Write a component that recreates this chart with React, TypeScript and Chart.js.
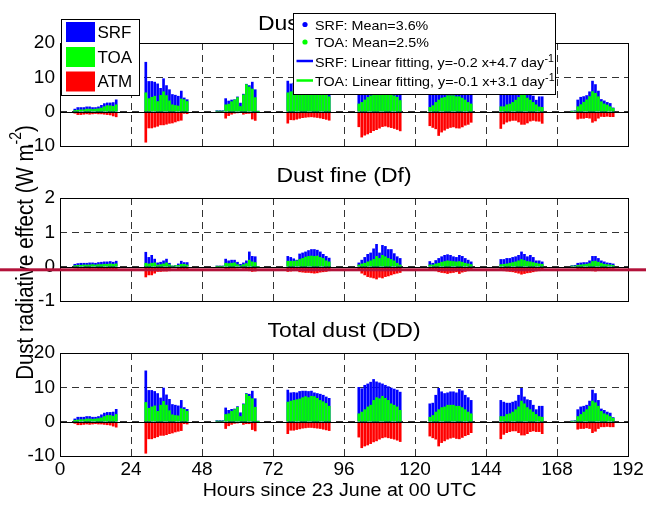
import React, { useEffect, useRef } from "react";
import { Chart, registerables } from "chart.js";

Chart.register(...registerables);

// ---------------- data ----------------
const HOURS = [
  5, 6, 7, 8, 9, 10, 11, 12, 13, 14, 15, 16, 17, 18, 19,
  29, 30, 31, 32, 33, 34, 35, 36, 37, 38, 39, 40, 41, 42, 43,
  53, 54, 55, 56, 57, 58, 59, 60, 61, 62, 63, 64, 65, 66, 67,
  77, 78, 79, 80, 81, 82, 83, 84, 85, 86, 87, 88, 89, 90, 91,
  101, 102, 103, 104, 105, 106, 107, 108, 109, 110, 111, 112, 113, 114, 115,
  125, 126, 127, 128, 129, 130, 131, 132, 133, 134, 135, 136, 137, 138, 139,
  149, 150, 151, 152, 153, 154, 155, 156, 157, 158, 159, 160, 161, 162, 163,
  173, 174, 175, 176, 177, 178, 179, 180, 181, 182, 183, 184, 185, 186, 187,
];

const X_TICK_STEP = 24;

// Dust coarse (Dc)
const DC_SRF = [
  0.75, 1.2, 1.2, 1.2, 1.4, 1.4, 1.2, 1.2, 1.4, 1.85, 2.35, 2.55, 2.55, 2.65, 3.45,
  14.4, 8.8, 8.8, 8.6, 8.1, 6.8, 9.6, 7.6, 6.4, 5.0, 4.8, 4.5, 6.0, 4.0, 3.5,
  0.28, 0.28, 0.28, 3.8, 3.1, 3.4, 3.5, 4.3, 2.5, 5.1, 8.0, 7.6, 8.6, 6.4, 0.1,
  8.9, 8.1, 8.3, 8.2, 8.4, 8.5, 8.5, 8.3, 8.4, 7.9, 7.7, 7.6, 7.3, 6.9, 6.55,
  9.9, 9.4, 10.3, 10.6, 11.1, 11.8, 10.9, 10.9, 10.4, 10.0, 9.7, 9.3, 9.1, 8.9, 8.35,
  5.05, 5.3, 7.5, 9.45, 8.4, 7.85, 8.05, 8.35, 8.4, 8.15, 9.05, 8.7, 7.45, 6.8, 6.05,
  6.0, 5.5, 5.15, 5.15, 5.45, 5.7, 7.35, 9.25, 6.85, 6.1, 5.85, 4.55, 3.35, 4.35, 4.35,
  0.17, 0.26, 3.4, 4.2, 4.4, 4.7, 5.8, 8.9, 7.9, 6.0, 3.55, 3.15, 2.7, 2.4, 1.1,
];
const DC_TOA = [
  0.35, 0.45, 0.55, 0.55, 0.75, 0.75, 0.65, 0.75, 0.85, 1.05, 1.45, 1.75, 1.7, 1.55, 2.0,
  5.5, 3.8, 4.2, 4.5, 2.95, 4.75, 5.8, 4.7, 3.15, 2.0, 1.8, 1.65, 3.7, 3.5, 2.95,
  0.19, 0.19, 0.19, 2.0, 2.2, 2.9, 3.4, 4.1, 1.5, 4.9, 7.9, 7.2, 6.6, 4.1, 0.05,
  5.5, 5.8, 6.0, 6.2, 6.4, 6.75, 7.0, 6.7, 7.1, 7.0, 6.5, 5.9, 5.55, 5.1, 4.35,
  2.25, 2.7, 3.4, 4.15, 4.6, 6.0, 6.7, 6.45, 7.05, 6.5, 5.95, 5.0, 4.6, 4.2, 3.25,
  1.25, 1.75, 2.7, 3.4, 3.95, 4.15, 4.65, 4.65, 4.65, 4.35, 4.35, 3.95, 3.4, 2.7, 2.25,
  1.45, 1.45, 2.0, 2.2, 2.7, 3.35, 4.15, 5.8, 5.0, 3.95, 3.35, 2.7, 2.0, 1.4, 1.25,
  0.08, 0.18, 1.45, 2.05, 2.75, 3.45, 4.4, 5.85, 5.35, 4.35, 2.9, 2.25, 1.95, 1.45, 0.95,
];
const DC_ATM = [
  -0.45, -0.85, -0.85, -0.75, -0.65, -0.75, -0.65, -0.55, -0.65, -0.65, -0.75, -0.85, -0.95, -1.25, -1.5,
  -8.9, -4.75, -4.75, -4.5, -4.25, -3.85, -3.85, -3.65, -3.4, -3.3, -3.0, -2.7, -2.5, -0.5, -0.6,
  -0.09, -0.09, -0.09, -1.9, -1.15, -0.75, -0.45, -0.35, -0.27, -0.75, -0.55, -0.5, -2.15, -2.55, -0.05,
  -3.35, -2.35, -2.4, -2.2, -1.95, -1.75, -1.65, -1.55, -1.5, -1.6, -1.7, -1.85, -2.05, -2.25, -2.5,
  -4.4, -7.4, -6.85, -6.5, -6.1, -5.55, -5.25, -4.8, -4.35, -4.2, -4.45, -4.65, -4.9, -5.2, -5.6,
  -4.1, -4.6, -5.0, -6.95, -5.95, -5.4, -4.9, -4.6, -4.45, -4.75, -4.8, -4.45, -3.95, -3.7, -3.1,
  -4.9, -3.6, -3.05, -2.75, -2.55, -2.55, -3.0, -3.7, -3.7, -3.3, -2.75, -2.55, -2.75, -2.8, -3.4,
  -0.09, -0.18, -2.15, -1.95, -1.95, -1.75, -1.9, -3.1, -2.7, -1.9, -1.4, -1.45, -1.35, -1.45, -1.45,
];

// Dust fine (Df)
const DF_SRF = [
  0.07, 0.09, 0.1, 0.1, 0.1, 0.11, 0.11, 0.1, 0.12, 0.13, 0.14, 0.14, 0.15, 0.13, 0.16,
  0.42, 0.27, 0.33, 0.22, 0.11, 0.13, 0.17, 0.22, 0.1, 0.02, 0.03, 0.08, 0.16, 0.12, 0.12,
  0.02, 0.02, 0.02, 0.22, 0.17, 0.19, 0.19, 0.13, 0.07, 0.11, 0.17, 0.43, 0.3, 0.29, 0.0,
  0.3, 0.27, 0.23, 0.19, 0.37, 0.4, 0.43, 0.47, 0.5, 0.5, 0.48, 0.43, 0.36, 0.3, 0.25,
  0.11, 0.19, 0.27, 0.36, 0.4, 0.52, 0.65, 0.4, 0.62, 0.59, 0.5, 0.5, 0.38, 0.29, 0.24,
  0.15, 0.1, 0.18, 0.24, 0.29, 0.33, 0.35, 0.33, 0.29, 0.27, 0.33, 0.3, 0.24, 0.19, 0.14,
  0.21, 0.21, 0.24, 0.24, 0.27, 0.29, 0.33, 0.43, 0.36, 0.29, 0.33, 0.27, 0.17, 0.17, 0.14,
  0.03, 0.04, 0.1, 0.11, 0.12, 0.12, 0.17, 0.3, 0.3, 0.24, 0.17, 0.14, 0.11, 0.1, 0.08,
];
const DF_TOA = [
  0.03, 0.04, 0.04, 0.05, 0.05, 0.05, 0.06, 0.05, 0.06, 0.06, 0.07, 0.07, 0.08, 0.07, 0.08,
  0.1, 0.08, 0.1, 0.11, 0.05, 0.06, 0.08, 0.11, 0.06, 0.02, 0.03, 0.04, 0.07, 0.07, 0.05,
  0.01, 0.01, 0.01, 0.1, 0.09, 0.1, 0.11, 0.06, 0.03, 0.06, 0.09, 0.19, 0.14, 0.12, 0.0,
  0.16, 0.16, 0.16, 0.17, 0.21, 0.24, 0.28, 0.3, 0.31, 0.3, 0.31, 0.27, 0.24, 0.17, 0.14,
  0.05, 0.08, 0.1, 0.14, 0.17, 0.21, 0.3, 0.24, 0.33, 0.29, 0.24, 0.21, 0.17, 0.1, 0.05,
  0.05, 0.05, 0.08, 0.1, 0.13, 0.15, 0.17, 0.16, 0.15, 0.14, 0.15, 0.13, 0.1, 0.08, 0.06,
  0.06, 0.07, 0.08, 0.1, 0.12, 0.14, 0.17, 0.21, 0.18, 0.15, 0.14, 0.12, 0.1, 0.08, 0.07,
  0.02, 0.02, 0.04, 0.05, 0.06, 0.07, 0.09, 0.15, 0.16, 0.13, 0.1, 0.07, 0.06, 0.05, 0.04,
];
const DF_ATM = [
  -0.04, -0.05, -0.05, -0.05, -0.05, -0.06, -0.05, -0.05, -0.06, -0.06, -0.07, -0.07, -0.07, -0.06, -0.08,
  -0.3, -0.24, -0.24, -0.19, -0.14, -0.14, -0.13, -0.13, -0.12, -0.02, -0.03, -0.1, -0.11, -0.11, -0.1,
  -0.01, -0.01, -0.01, -0.1, -0.06, -0.05, -0.05, -0.04, -0.03, -0.05, -0.06, -0.12, -0.14, -0.13, 0.0,
  -0.14, -0.13, -0.12, -0.12, -0.15, -0.16, -0.17, -0.17, -0.18, -0.19, -0.18, -0.16, -0.15, -0.14, -0.12,
  -0.1, -0.19, -0.24, -0.29, -0.31, -0.33, -0.36, -0.31, -0.33, -0.29, -0.27, -0.24, -0.21, -0.19, -0.17,
  -0.08, -0.1, -0.12, -0.15, -0.17, -0.18, -0.2, -0.18, -0.17, -0.15, -0.2, -0.16, -0.14, -0.12, -0.1,
  -0.1, -0.12, -0.13, -0.14, -0.15, -0.17, -0.19, -0.22, -0.2, -0.18, -0.17, -0.15, -0.13, -0.12, -0.1,
  -0.01, -0.02, -0.06, -0.06, -0.07, -0.07, -0.08, -0.12, -0.13, -0.1, -0.08, -0.07, -0.06, -0.05, -0.05,
];

// Total dust (DD)
const DD_SRF = [
  0.8, 1.3, 1.3, 1.3, 1.5, 1.5, 1.3, 1.3, 1.5, 2.0, 2.5, 2.7, 2.7, 2.8, 3.6,
  14.8, 9.1, 9.1, 8.8, 8.2, 6.9, 9.8, 7.8, 6.5, 5.0, 4.8, 4.6, 6.2, 4.1, 3.6,
  0.3, 0.3, 0.3, 4.0, 3.3, 3.6, 3.7, 4.4, 2.6, 5.2, 8.2, 8.0, 8.9, 6.7, 0.1,
  9.2, 8.4, 8.5, 8.4, 8.8, 8.9, 8.9, 8.8, 8.9, 8.4, 8.2, 8.0, 7.7, 7.2, 6.8,
  10.0, 9.6, 10.6, 11.0, 11.5, 12.3, 11.6, 11.3, 11.0, 10.6, 10.2, 9.8, 9.5, 9.2, 8.6,
  5.2, 5.4, 7.7, 9.7, 8.7, 8.2, 8.4, 8.7, 8.7, 8.4, 9.4, 9.0, 7.7, 7.0, 6.2,
  6.2, 5.7, 5.4, 5.4, 5.7, 6.0, 7.7, 9.7, 7.2, 6.4, 6.2, 4.8, 3.5, 4.5, 4.5,
  0.2, 0.3, 3.5, 4.3, 4.5, 4.8, 6.0, 9.2, 8.2, 6.2, 3.7, 3.3, 2.8, 2.5, 1.2,
];
const DD_TOA = [
  0.4, 0.5, 0.6, 0.6, 0.8, 0.8, 0.7, 0.8, 0.9, 1.1, 1.5, 1.8, 1.8, 1.6, 2.1,
  5.6, 3.9, 4.3, 4.6, 3.0, 4.8, 5.9, 4.8, 3.2, 2.0, 1.8, 1.7, 3.8, 3.6, 3.0,
  0.2, 0.2, 0.2, 2.1, 2.3, 3.0, 3.5, 4.2, 1.5, 5.0, 8.0, 7.4, 6.7, 4.2, 0.05,
  5.7, 6.0, 6.2, 6.4, 6.6, 7.0, 7.3, 7.0, 7.4, 7.3, 6.8, 6.2, 5.8, 5.3, 4.5,
  2.3, 2.8, 3.5, 4.3, 4.8, 6.2, 7.0, 6.7, 7.4, 6.8, 6.2, 5.2, 4.8, 4.3, 3.3,
  1.3, 1.8, 2.8, 3.5, 4.1, 4.3, 4.8, 4.8, 4.8, 4.5, 4.5, 4.1, 3.5, 2.8, 2.3,
  1.5, 1.5, 2.1, 2.3, 2.8, 3.5, 4.3, 6.0, 5.2, 4.1, 3.5, 2.8, 2.1, 1.5, 1.3,
  0.1, 0.2, 1.5, 2.1, 2.8, 3.5, 4.5, 6.0, 5.5, 4.5, 3.0, 2.3, 2.0, 1.5, 1.0,
];
const DD_ATM = [
  -0.5, -0.9, -0.9, -0.8, -0.7, -0.8, -0.7, -0.6, -0.7, -0.7, -0.8, -0.9, -1.0, -1.3, -1.6,
  -9.2, -5.0, -5.0, -4.7, -4.4, -4.0, -4.0, -3.8, -3.5, -3.3, -3.0, -2.8, -2.6, -0.6, -0.7,
  -0.1, -0.1, -0.1, -2.0, -1.2, -0.8, -0.5, -0.4, -0.3, -0.8, -0.6, -0.6, -2.3, -2.7, -0.05,
  -3.5, -2.5, -2.5, -2.3, -2.1, -1.9, -1.8, -1.7, -1.7, -1.8, -1.9, -2.0, -2.2, -2.4, -2.6,
  -4.5, -7.6, -7.1, -6.8, -6.4, -5.9, -5.6, -5.1, -4.7, -4.5, -4.7, -4.9, -5.1, -5.4, -5.8,
  -4.2, -4.7, -5.1, -7.1, -6.1, -5.6, -5.1, -4.8, -4.6, -4.9, -5.0, -4.6, -4.1, -3.8, -3.2,
  -5.0, -3.7, -3.2, -2.9, -2.7, -2.7, -3.2, -3.9, -3.9, -3.5, -2.9, -2.7, -2.9, -2.9, -3.5,
  -0.1, -0.2, -2.2, -2.0, -2.0, -1.8, -2.0, -3.2, -2.8, -2.0, -1.5, -1.5, -1.4, -1.5, -1.5,
];

const SERIES_NAMES = ["SRF", "TOA", "ATM"];
const STAT_LABELS = ["SRF: Mean=3.6%", "TOA: Mean=2.5%"];
const FIT_LABELS = ["SRF: Linear fitting, y=-0.2 x+4.7 day", "TOA: Linear fitting, y=-0.1 x+3.1 day"];
const FIT_SUP = "-1";
const PANEL_TITLES = ["Dust coarse (Dc)", "Dust fine (Df)", "Total dust (DD)"];
const X_LABEL = "Hours since 23 June at 00 UTC";
const Y_LABEL_MAIN = "Dust radiative effect (W m";
const Y_LABEL_SUP = "-2";
const Y_LABEL_END = ")";

// ---------------- layout / style ----------------
const W = 646;
const H = 506;
const PLOT_LEFT = 60;
const PLOT_RIGHT = 628;
const FONT = '"Liberation Sans", Arial, Helvetica, sans-serif';
const BLUE = "#0000ff";
const GREEN = "#00ff00";
const RED = "#ff0000";
const GRID = "#333";

type Panel = {
  title: string;
  srf: number[];
  toa: number[];
  atm: number[];
  top: number;
  bottom: number;
  yMin: number;
  yMax: number;
  yStep: number;
  titleBase: number;
  showX: boolean;
  extra: "legend" | "ylabel" | "xlabel";
};

const PANELS: Panel[] = [
  { title: PANEL_TITLES[0], srf: DC_SRF, toa: DC_TOA, atm: DC_ATM, top: 43, bottom: 146, yMin: -10, yMax: 20, yStep: 10, titleBase: 29.5, showX: false, extra: "legend" },
  { title: PANEL_TITLES[1], srf: DF_SRF, toa: DF_TOA, atm: DF_ATM, top: 198, bottom: 301, yMin: -1, yMax: 2, yStep: 1, titleBase: 181.7, showX: false, extra: "ylabel" },
  { title: PANEL_TITLES[2], srf: DD_SRF, toa: DD_TOA, atm: DD_ATM, top: 353, bottom: 456, yMin: -10, yMax: 20, yStep: 10, titleBase: 336.7, showX: true, extra: "xlabel" },
];

function text(
  ctx: CanvasRenderingContext2D,
  s: string,
  x: number,
  y: number,
  size: number,
  align: CanvasTextAlign = "left",
  sx = 1
) {
  ctx.save();
  ctx.font = `${size}px ${FONT}`;
  ctx.fillStyle = "#000";
  ctx.textBaseline = "alphabetic";
  ctx.textAlign = align;
  ctx.translate(x, y);
  ctx.scale(sx, 1);
  ctx.fillText(s, 0, 0);
  ctx.restore();
}

function measure(ctx: CanvasRenderingContext2D, s: string, size: number) {
  ctx.save();
  ctx.font = `${size}px ${FONT}`;
  const w = ctx.measureText(s).width;
  ctx.restore();
  return w;
}

function drawLegends(ctx: CanvasRenderingContext2D) {
  ctx.save();
  // left legend
  ctx.fillStyle = "#fff";
  ctx.fillRect(61, 19, 79, 77);
  ctx.strokeStyle = "#000";
  ctx.lineWidth = 1;
  ctx.strokeRect(61.5, 19.5, 78, 76);
  const colors = [BLUE, GREEN, RED];
  const rectTops = [22, 47, 71.5];
  const bases = [38.3, 63.3, 87.3];
  SERIES_NAMES.forEach((n, i) => {
    ctx.fillStyle = colors[i];
    ctx.fillRect(66, rectTops[i], 29, 20);
    text(ctx, n, 97.5, bases[i], 17);
  });

  // right legend
  ctx.fillStyle = "#fff";
  ctx.fillRect(293, 13, 263, 82);
  ctx.strokeStyle = "#000";
  ctx.lineWidth = 1;
  ctx.strokeRect(293.5, 13.5, 262, 81);
  const sx = 1.06;
  const fs = 13.5;
  const rowBase = [29.5, 47, 66.5, 86];
  [BLUE, GREEN].forEach((c, i) => {
    ctx.fillStyle = c;
    ctx.beginPath();
    ctx.arc(305, rowBase[i] - 5, 2.6, 0, Math.PI * 2);
    ctx.fill();
    text(ctx, STAT_LABELS[i], 315, rowBase[i], fs, "left", sx);
  });
  [BLUE, GREEN].forEach((c, i) => {
    const b = rowBase[2 + i];
    ctx.strokeStyle = c;
    ctx.lineWidth = 2.5;
    ctx.beginPath();
    ctx.moveTo(296.5, b - 5.5);
    ctx.lineTo(313, b - 5.5);
    ctx.stroke();
    text(ctx, FIT_LABELS[i], 315, b, fs, "left", sx);
    const w = measure(ctx, FIT_LABELS[i], fs) * sx;
    text(ctx, FIT_SUP, 315 + w + 0.5, b - 5, 10, "left", sx);
  });
  ctx.restore();
}

function drawYLabel(ctx: CanvasRenderingContext2D) {
  const size = 20.5;
  const sup = 14;
  const wa = measure(ctx, Y_LABEL_MAIN, size);
  const wb = measure(ctx, Y_LABEL_SUP, sup);
  const wc = measure(ctx, Y_LABEL_END, size);
  ctx.save();
  ctx.translate(33.3, 252.5);
  ctx.rotate(-Math.PI / 2);
  ctx.scale(1, 1.2);
  ctx.fillStyle = "#000";
  ctx.textBaseline = "alphabetic";
  ctx.textAlign = "left";
  let x = -(wa + wb + wc) / 2;
  ctx.font = `${size}px ${FONT}`;
  ctx.fillText(Y_LABEL_MAIN, x, 0);
  x += wa;
  ctx.font = `${sup}px ${FONT}`;
  ctx.fillText(Y_LABEL_SUP, x, -10);
  x += wb;
  ctx.font = `${size}px ${FONT}`;
  ctx.fillText(Y_LABEL_END, x, 0);
  ctx.restore();
}

const decor = {
  id: "decor",
  afterDatasetsDraw(chart: any) {
    const { ctx, chartArea: a, scales } = chart;
    ctx.save();
    ctx.strokeStyle = "#000";
    ctx.lineWidth = 1;
    const y0 = Math.round(scales.y.getPixelForValue(0)) + 0.5;
    ctx.beginPath();
    ctx.moveTo(a.left, y0);
    ctx.lineTo(a.right, y0);
    ctx.stroke();
    ctx.strokeRect(a.left + 0.5, a.top + 0.5, a.right - a.left, a.bottom - a.top);
    ctx.restore();
  },
  afterDraw(chart: any, _args: any, o: any) {
    const { ctx, chartArea: a } = chart;
    const p: Panel = o.panel;
    text(ctx, p.title, (a.left + a.right) / 2, p.titleBase, 20.5, "center", 1.12);
    if (p.extra === "legend") drawLegends(ctx);
    if (p.extra === "xlabel") text(ctx, X_LABEL, 339.5, 496, 18, "center", 1.09);
    if (p.extra === "ylabel") {
      drawYLabel(ctx);
      ctx.save();
      ctx.fillStyle = "#b3123a";
      ctx.fillRect(0, 268.3, W, 3);
      ctx.restore();
    }
  },
};

function makeChart(canvas: HTMLCanvasElement, p: Panel) {
  const xh = p.showX ? H - p.bottom : 0;
  const pts = (arr: number[]) => HOURS.map((h, i) => ({ x: h, y: arr[i] }));
  const tickFont = { family: FONT, size: 19 };
  return new Chart(canvas, {
    type: "bar",
    data: {
      datasets: [
        { label: "TOA", data: pts(p.toa), backgroundColor: GREEN },
        { label: "SRF", data: pts(p.srf), backgroundColor: BLUE },
        { label: "ATM", data: pts(p.atm), backgroundColor: RED },
      ] as any,
    },
    options: {
      responsive: false,
      animation: false,
      devicePixelRatio: 1,
      events: [],
      layout: {
        padding: { left: 0, right: W - PLOT_RIGHT, top: p.top, bottom: H - p.bottom - xh },
      },
      datasets: {
        bar: { grouped: false, barThickness: 2, borderWidth: 0 } as any,
      },
      scales: {
        x: {
          type: "linear",
          min: 0,
          max: 192,
          offset: false,
          grid: { offset: false, color: GRID, lineWidth: 1, drawTicks: false },
          border: { display: false, dash: [7, 5] },
          ticks: {
            display: p.showX,
            stepSize: X_TICK_STEP,
            padding: 2,
            color: "#000",
            font: tickFont,
            maxRotation: 0,
            autoSkip: false,
          },
          afterFit: (s: any) => {
            s.height = xh;
          },
        },
        y: {
          type: "linear",
          min: p.yMin,
          max: p.yMax,
          grid: { color: GRID, lineWidth: 1, drawTicks: false },
          border: { display: false, dash: [7, 5] },
          ticks: { stepSize: p.yStep, padding: 5, color: "#000", font: tickFont },
          afterFit: (s: any) => {
            s.width = PLOT_LEFT;
          },
        },
      },
      plugins: {
        legend: { display: false },
        tooltip: { enabled: false },
        title: { display: false },
        decor: { panel: p },
      } as any,
    },
    plugins: [decor as any],
  });
}

export default function App() {
  const refs = useRef<(HTMLCanvasElement | null)[]>([]);
  useEffect(() => {
    const charts = PANELS.map((p, i) => makeChart(refs.current[i] as HTMLCanvasElement, p));
    return () => charts.forEach((c) => c.destroy());
  }, []);
  return (
    <div style={{ position: "absolute", left: 0, top: 0, width: W, height: H, background: "#fff", overflow: "hidden" }}>
      {PANELS.map((p, i) => (
        <canvas
          key={i}
          ref={(el) => {
            refs.current[i] = el;
          }}
          width={W}
          height={H}
          style={{ position: "absolute", left: 0, top: 0, width: W, height: H }}
        />
      ))}
    </div>
  );
}
